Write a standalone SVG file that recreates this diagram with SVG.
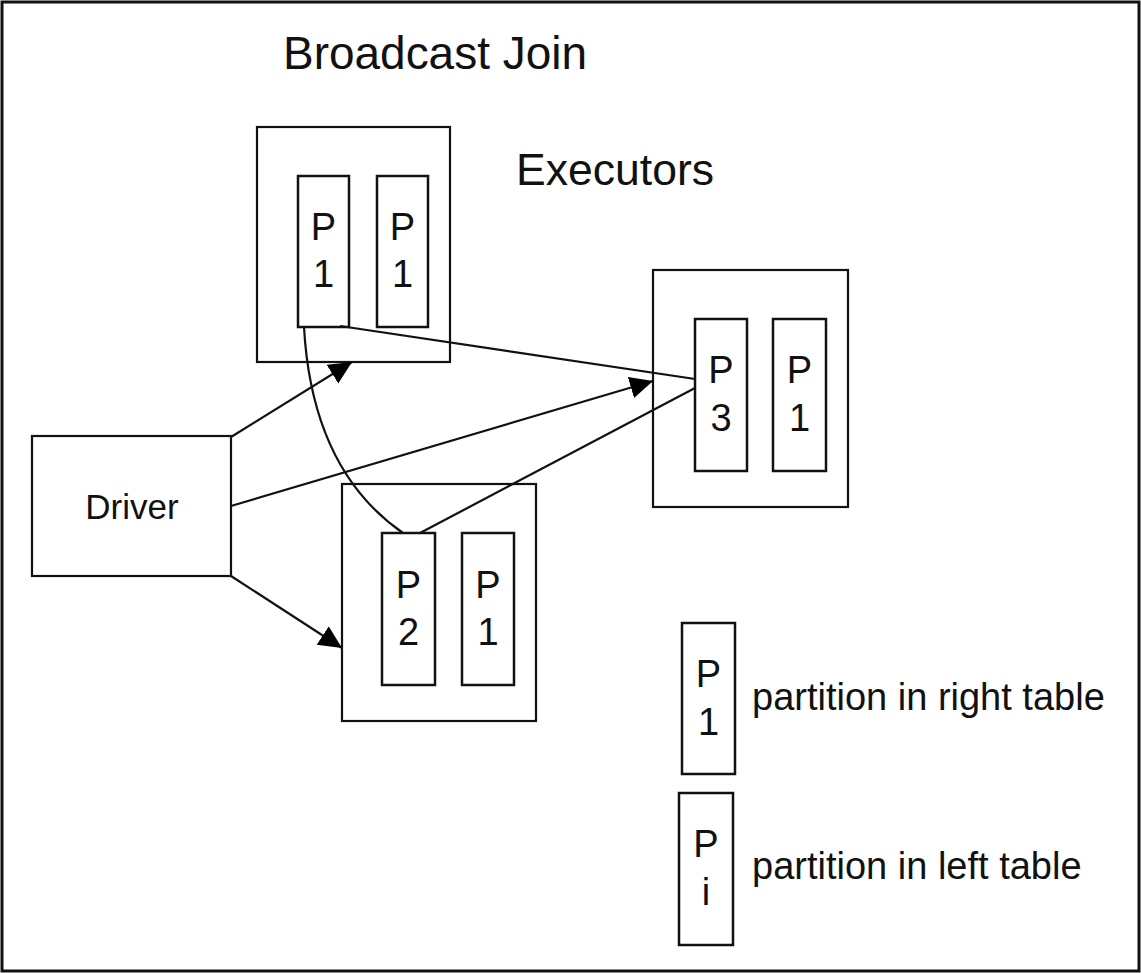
<svg xmlns="http://www.w3.org/2000/svg" width="1141" height="973" viewBox="0 0 1141 973">
<style>
.box{fill:#fff;stroke:#111;stroke-width:2.2}
.part{fill:#fff;stroke:#111;stroke-width:2.5}
.t{font-family:"Liberation Sans",Arial,sans-serif;fill:#111}
.c{text-anchor:middle;font-size:38px}
.edge{fill:none;stroke:#111;stroke-width:2.2}
</style>
<defs>
<marker id="arr" markerUnits="userSpaceOnUse" markerWidth="26" markerHeight="24" refX="23" refY="11" orient="auto">
<path d="M0,0 L23,11 L0,22 z" fill="#000"/>
</marker>
</defs>
<rect x="0" y="0" width="1141" height="973" fill="#fff"/>
<rect x="2" y="2" width="1137" height="969" fill="none" stroke="#111" stroke-width="3"/>
<text class="t" x="283" y="69" font-size="46" textLength="304" lengthAdjust="spacingAndGlyphs">Broadcast Join</text>
<text class="t" x="516" y="185" font-size="44" textLength="198" lengthAdjust="spacingAndGlyphs">Executors</text>

<g id="executor1">
<rect class="box" x="257" y="127" width="193" height="235"/>
<rect class="part" x="298" y="176" width="51" height="151"/>
<text class="t c" x="323.5" y="240">P</text>
<text class="t c" x="323.5" y="287">1</text>
<rect class="part" x="377" y="176" width="51" height="151"/>
<text class="t c" x="402.5" y="240">P</text>
<text class="t c" x="402.5" y="287">1</text>
</g>

<g id="executor3">
<rect class="box" x="653" y="270" width="195" height="237"/>
<rect class="part" x="695" y="319" width="52" height="152"/>
<text class="t c" x="721" y="383">P</text>
<text class="t c" x="721" y="431">3</text>
<rect class="part" x="773" y="319" width="53" height="152"/>
<text class="t c" x="799.5" y="383">P</text>
<text class="t c" x="799.5" y="431">1</text>
</g>

<g id="executor2">
<rect class="box" x="342" y="484" width="194" height="237"/>
<rect class="part" x="382" y="533" width="53" height="152"/>
<text class="t c" x="408.5" y="598">P</text>
<text class="t c" x="408.5" y="645">2</text>
<rect class="part" x="462" y="533" width="52" height="152"/>
<text class="t c" x="488" y="598">P</text>
<text class="t c" x="488" y="645">1</text>
</g>

<g id="driver">
<rect class="box" x="32" y="436" width="199" height="140"/>
<text class="t" x="132" y="519" font-size="35" text-anchor="middle">Driver</text>
</g>

<g id="legend-right">
<rect class="part" x="682" y="623" width="53" height="151"/>
<text class="t c" x="708.5" y="687">P</text>
<text class="t c" x="708.5" y="735">1</text>
<text class="t" x="752" y="710" font-size="38">partition in right table</text>
</g>

<g id="legend-left">
<rect class="part" x="679" y="793" width="54" height="152"/>
<text class="t c" x="706" y="857">P</text>
<text class="t c" x="706" y="905">i</text>
<text class="t" x="752" y="879" font-size="38">partition in left table</text>
</g>

<g id="connectors">
<line class="edge" x1="231" y1="437" x2="352" y2="362" marker-end="url(#arr)"/>
<line class="edge" x1="231" y1="506" x2="653" y2="381" marker-end="url(#arr)"/>
<line class="edge" x1="231" y1="576" x2="342" y2="648" marker-end="url(#arr)"/>
<line class="edge" x1="340" y1="326" x2="695" y2="379"/>
<line class="edge" x1="420" y1="533" x2="695" y2="388"/>
<path class="edge" d="M304,327 Q312,470 403,533"/>
</g>
</svg>
